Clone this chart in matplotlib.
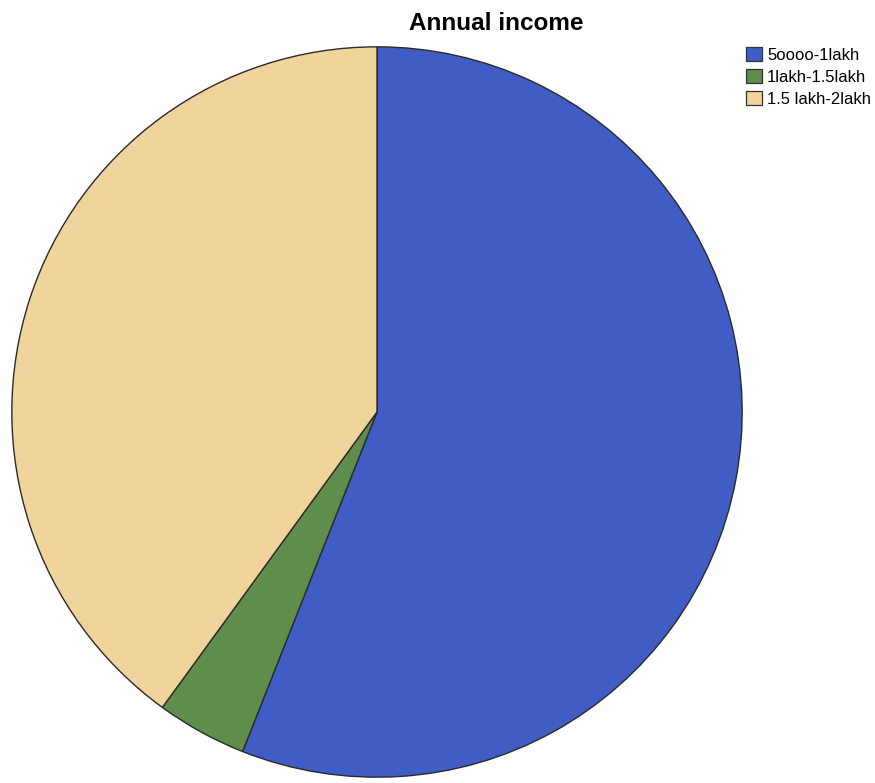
import matplotlib
matplotlib.use("Agg")
import matplotlib.pyplot as plt
from matplotlib.patches import Patch

categories = ["5oooo-1lakh", "1lakh-1.5lakh", "1.5 lakh-2lakh"]
counts = [28, 2, 20]
colors = ["#3f5dc4", "#5f8d4b", "#f1d39c"]

W, H, DPI = 875, 783, 100
fig = plt.figure(figsize=(W / DPI, H / DPI), dpi=DPI)

cx, cy, r = 377, 412, 367
ax = fig.add_axes([(cx - r) / W, (H - cy - r) / H, 2 * r / W, 2 * r / H])
ax.pie(counts, colors=colors, startangle=90, counterclock=False,
       radius=1, wedgeprops=dict(edgecolor="#2a2a2a", linewidth=1.0))
ax.set_xlim(-1.005, 1.005)
ax.set_ylim(-1.005, 1.005)
ax.set_aspect("auto")
ax.axis("off")

fig.text(496 / W, 1 - 24 / H, "Annual income", ha="center", va="center",
         fontsize=17.5, fontweight="bold", family="Liberation Sans")

handles = [Patch(facecolor=c, edgecolor="#333333", linewidth=0.9) for c in colors]
fig.legend(handles, categories, loc="upper left",
           bbox_to_anchor=(746 / W, 1 - 47 / H), frameon=False,
           prop=dict(family="Liberation Sans", size=12),
           handlelength=0.96, handleheight=0.96, handletextpad=0.3,
           labelspacing=0.36, borderpad=0, borderaxespad=0)

fig.savefig("out.png", dpi=DPI)
